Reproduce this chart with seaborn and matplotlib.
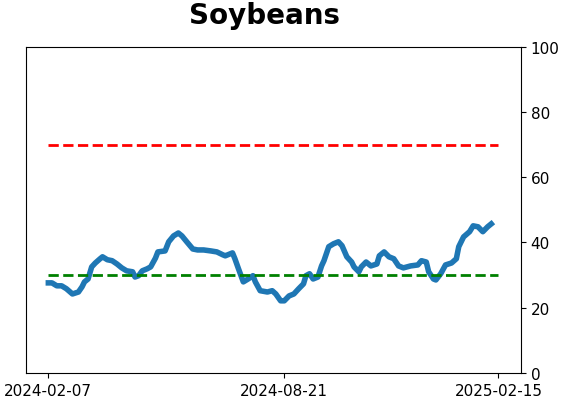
import pandas as pd
import matplotlib
matplotlib.use('Agg')
import matplotlib.pyplot as plt
import seaborn as sns

# series
dates = ['2024-02-07', '2024-02-10', '2024-02-14', '2024-02-18', '2024-02-22', '2024-02-27',
         '2024-03-03', '2024-03-06', '2024-03-08', '2024-03-11', '2024-03-14', '2024-03-17',
         '2024-03-21', '2024-03-23', '2024-03-27', '2024-03-31', '2024-04-04', '2024-04-08',
         '2024-04-12', '2024-04-17', '2024-04-19', '2024-04-22', '2024-04-25', '2024-04-29',
         '2024-05-02', '2024-05-06', '2024-05-08', '2024-05-14', '2024-05-17', '2024-05-21',
         '2024-05-25', '2024-05-28', '2024-06-01', '2024-06-06', '2024-06-10', '2024-06-15',
         '2024-06-21', '2024-06-26', '2024-07-01', '2024-07-03', '2024-07-09', '2024-07-11',
         '2024-07-14', '2024-07-18', '2024-07-22', '2024-07-26', '2024-07-28', '2024-08-01',
         '2024-08-07', '2024-08-11', '2024-08-14', '2024-08-18', '2024-08-21', '2024-08-25',
         '2024-08-29', '2024-09-02', '2024-09-06', '2024-09-08', '2024-09-11', '2024-09-14',
         '2024-09-18', '2024-09-21', '2024-09-23', '2024-09-27', '2024-10-01', '2024-10-05',
         '2024-10-08', '2024-10-12', '2024-10-16', '2024-10-18', '2024-10-22', '2024-10-24',
         '2024-10-28', '2024-11-01', '2024-11-06', '2024-11-08', '2024-11-12', '2024-11-16',
         '2024-11-20', '2024-11-24', '2024-11-28', '2024-12-04', '2024-12-10', '2024-12-13',
         '2024-12-17', '2024-12-19', '2024-12-23', '2024-12-25', '2024-12-29', '2025-01-02',
         '2025-01-07', '2025-01-11', '2025-01-13', '2025-01-17', '2025-01-22', '2025-01-25',
         '2025-01-29', '2025-02-02', '2025-02-06', '2025-02-09']
values = [27.6, 27.6, 26.7, 26.7, 25.8, 24.2,
          24.8, 26.4, 27.9, 28.8, 32.5, 33.7,
          35.0, 35.6, 34.7, 34.4, 33.4, 32.2,
          31.3, 31.0, 29.4, 29.8, 31.3, 31.9,
          32.5, 35.2, 37.1, 37.4, 40.2, 42.0,
          42.9, 42.0, 40.2, 38.0, 37.7, 37.7,
          37.4, 37.1, 36.2, 35.9, 36.8, 35.0,
          31.9, 27.9, 28.8, 29.8, 27.9, 25.2,
          24.8, 25.2, 24.2, 22.1, 22.1, 23.6,
          24.2, 25.8, 27.3, 29.8, 30.4, 28.8,
          29.4, 32.8, 34.4, 38.7, 39.6, 40.2,
          39.0, 35.6, 34.0, 32.5, 31.0, 32.5,
          34.0, 32.8, 33.4, 35.9, 37.1, 35.6,
          35.0, 32.8, 32.2, 32.8, 33.1, 34.4,
          34.0, 31.0, 28.8, 28.5, 30.4, 33.1,
          33.7, 35.0, 38.7, 41.7, 43.3, 45.1,
          44.8, 43.3, 44.8, 45.7]

# reference levels and x range they span
band_dates = ['2024-02-07', '2025-02-15']
upper_level = 70
lower_level = 30
tick_dates = ['2024-02-07', '2024-08-21', '2025-02-15']
y_ticks = [0, 20, 40, 60, 80, 100]

df = pd.DataFrame({'date': pd.to_datetime(dates), 'value': values})
band = pd.to_datetime(band_dates)

fig = plt.figure(figsize=(5.62, 4.02), dpi=100)
ax = fig.add_axes([0.046, 0.070, 0.881, 0.811])

sns.lineplot(data=df, x='date', y='value', ax=ax, color='#1f77b4', linewidth=4)
ax.plot(band, [upper_level, upper_level], color='red', linestyle='--', linewidth=2)
ax.plot(band, [lower_level, lower_level], color='green', linestyle='--', linewidth=2)

ax.set_ylim(0, 100)
ax.set_yticks(y_ticks)
ax.yaxis.tick_right()
ax.set_xticks(pd.to_datetime(tick_dates))
ax.set_xticklabels(tick_dates)
ax.tick_params(labelsize=11)
ax.set_xlabel('')
ax.set_ylabel('')

fig.text(0.471, 0.995, 'Soybeans', ha='center', va='top', fontsize=20, fontweight='bold')

fig.savefig('out.png', dpi=100)
